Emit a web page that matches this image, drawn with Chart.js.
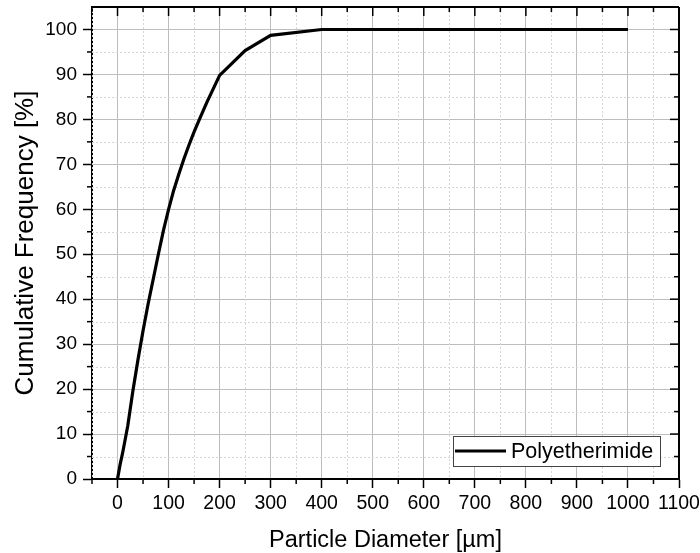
<!DOCTYPE html>
<html>
<head>
<meta charset="utf-8">
<script src="https://cdn.jsdelivr.net/npm/chart.js@4.4.1/dist/chart.umd.min.js"></script>
<style>
  html, body { margin: 0; padding: 0; background: #fff; }
  #wrap { width: 700px; height: 553px; }
</style>
</head>
<body>
<div id="wrap"><canvas id="grafico"></canvas></div>
<script>
// Dados
const diameter = [0, 5, 10, 20, 30, 40, 50, 60, 70, 80, 90, 100, 110, 120, 130, 140, 150, 160, 175, 200, 250, 300, 400, 500, 600, 700, 800, 900, 1000];
const cumulative = [0, 3.2, 5.8, 11.8, 19.5, 26.5, 33, 39, 44.5, 50, 55.3, 60.0, 64.2, 67.8, 71.2, 74.3, 77.2, 79.9, 83.8, 89.8, 95.3, 98.7, 100, 100, 100, 100, 100, 100, 100];
const seriesLabel = 'Polyetherimide';

const xMajorTicks = [0, 100, 200, 300, 400, 500, 600, 700, 800, 900, 1000, 1100];
const xMinorTicks = [-50, 50, 150, 250, 350, 450, 550, 650, 750, 850, 950, 1050];
const yMajorTicks = [0, 10, 20, 30, 40, 50, 60, 70, 80, 90, 100];
const yMinorTicks = [5, 15, 25, 35, 45, 55, 65, 75, 85, 95];

const FONT = 'Liberation Sans, Arial, sans-serif';
const MAJOR_LEN = 9;
const MINOR_LEN = 5;

function seg(ctx, x1, y1, x2, y2) {
    ctx.beginPath();
    ctx.moveTo(x1, y1);
    ctx.lineTo(x2, y2);
    ctx.stroke();
}

// grade secundária, ticks espelhados, moldura e legenda
const molduraPlugin = {
    id: 'moldura',
    beforeDatasetsDraw(chart) {
        const { ctx, chartArea: a, scales: { x, y } } = chart;
        ctx.save();
        ctx.strokeStyle = '#d6d6d6';
        ctx.lineWidth = 1;
        ctx.setLineDash([2, 2]);
        xMinorTicks.forEach(v => {
            const px = Math.round(x.getPixelForValue(v)) + 0.5;
            seg(ctx, px, a.top, px, a.bottom);
        });
        yMinorTicks.forEach(v => {
            const py = Math.round(y.getPixelForValue(v)) + 0.5;
            seg(ctx, a.left, py, a.right, py);
        });
        ctx.restore();
    },
    afterDraw(chart) {
        const { ctx, chartArea: a, scales: { x, y } } = chart;
        ctx.save();
        ctx.strokeStyle = '#000';
        ctx.lineWidth = 1.5;
        xMajorTicks.forEach(v => {
            const px = x.getPixelForValue(v);
            seg(ctx, px, a.top, px, a.top + MAJOR_LEN);
        });
        xMinorTicks.forEach(v => {
            const px = x.getPixelForValue(v);
            seg(ctx, px, a.top, px, a.top + MINOR_LEN);
            seg(ctx, px, a.bottom, px, a.bottom + MINOR_LEN);
        });
        yMajorTicks.forEach(v => {
            const py = y.getPixelForValue(v);
            seg(ctx, a.right, py, a.right - MAJOR_LEN, py);
        });
        yMinorTicks.forEach(v => {
            const py = y.getPixelForValue(v);
            seg(ctx, a.right, py, a.right - MINOR_LEN, py);
            seg(ctx, a.left, py, a.left - MINOR_LEN, py);
        });
        ctx.lineWidth = 2;
        seg(ctx, a.left - 1, a.top, a.right, a.top);
        seg(ctx, a.right, a.top, a.right, a.bottom + 1);

        // legenda
        const bw = 207, bh = 30;
        const bx = a.right - 19 - bw, by = a.bottom - 13 - bh;
        ctx.fillStyle = '#fff';
        ctx.fillRect(bx, by, bw, bh);
        ctx.strokeStyle = '#444';
        ctx.lineWidth = 1;
        ctx.strokeRect(bx + 0.5, by + 0.5, bw, bh);
        ctx.strokeStyle = '#000';
        ctx.lineWidth = 3;
        seg(ctx, bx + 2, by + bh / 2, bx + 53, by + bh / 2);
        ctx.fillStyle = '#000';
        ctx.font = '21.5px ' + FONT;
        ctx.textBaseline = 'middle';
        ctx.fillText(chart.data.datasets[0].label, bx + 58, by + bh / 2 + 1);
        ctx.restore();
    }
};

new Chart(document.getElementById('grafico'), {
    type: 'scatter',
    data: {
        datasets: [{
            label: seriesLabel,
            data: diameter.map((d, i) => ({ x: d, y: cumulative[i] })),
            showLine: true,
            borderColor: '#000',
            backgroundColor: '#000',
            borderWidth: 3.2,
            pointRadius: 0,
            tension: 0
        }]
    },
    options: {
        responsive: true,
        maintainAspectRatio: false,
        animation: false,
        layout: { padding: { left: 0, top: 7, right: 21, bottom: 0 } },
        plugins: {
            legend: { display: false },
            tooltip: { enabled: false }
        },
        scales: {
            x: {
                type: 'linear',
                min: -50,
                max: 1100,
                afterBuildTicks: s => { s.ticks = xMajorTicks.map(v => ({ value: v })); },
                afterFit: s => { s.height = 74; s.paddingLeft = 0; s.paddingRight = 0; },
                grid: { color: '#bdbdbd', lineWidth: 1, tickColor: '#000', tickLength: MAJOR_LEN, tickWidth: 1.5 },
                border: { color: '#000', width: 2 },
                ticks: {
                    color: '#000', font: { family: FONT, size: 19.5 }, padding: 4,
                    maxRotation: 0, autoSkip: false, callback: v => String(v)
                },
                title: {
                    display: true,
                    text: 'Particle Diameter [µm]',
                    color: '#000',
                    font: { family: FONT, size: 23.5, lineHeight: 1.1 },
                    padding: { top: 0, bottom: 0 }
                }
            },
            y: {
                min: 0,
                max: 105,
                afterBuildTicks: s => { s.ticks = yMajorTicks.map(v => ({ value: v })); },
                afterFit: s => { s.width = 92; s.paddingTop = 0; s.paddingBottom = 0; },
                grid: { color: '#bdbdbd', lineWidth: 1, tickColor: '#000', tickLength: MAJOR_LEN, tickWidth: 1.5 },
                border: { color: '#000', width: 2 },
                ticks: { color: '#000', font: { family: FONT, size: 19 }, padding: 6, autoSkip: false, callback: v => String(v) },
                title: {
                    display: true,
                    text: 'Cumulative Frequency [%]',
                    color: '#000',
                    font: { family: FONT, size: 26 },
                    padding: { top: 10, bottom: 0 }
                }
            }
        }
    },
    plugins: [molduraPlugin]
});
</script>
</body>
</html>
